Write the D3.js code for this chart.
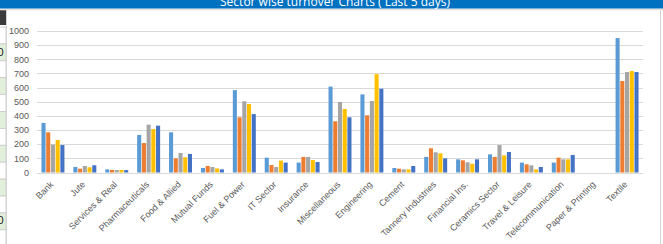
<!DOCTYPE html>
<html lang="en">
<head>
    <meta charset="UTF-8">
    <title>Sector wise turnover Charts</title>
    <script type="text/javascript" src="https://cdn.jsdelivr.net/npm/d3@7"></script>
    <style type="text/css">
        body { margin: 0; background: #fff; }
        svg { display: block; }
    </style>
</head>
<body>
<script type="text/javascript">

    //Width and height
    var w = 663;
    var h = 244;

    var categories = ["Bank", "Jute", "Services & Real", "Pharmaceuticals", "Food & Allied",
        "Mutual Funds", "Fuel & Power", "IT Sector", "Insurance", "Miscellaneous",
        "Engineering", "Cement", "Tannery Industries", "Financial Ins.", "Ceramics Sector",
        "Travel & Leisure", "Telecommunication", "Paper & Printing", "Textile"];

    // one array per day (last 5 days)
    var day1 = [350, 39, 22, 265, 284, 32, 582, 105, 70, 607, 552, 32, 110, 93, 128, 70, 70, 0, 950];
    var day2 = [284, 27, 18, 208, 100, 46, 390, 53, 110, 362, 404, 27, 171, 86, 110, 58, 105, 0, 647];
    var day3 = [197, 46, 18, 338, 138, 39, 503, 39, 110, 498, 505, 22, 143, 72, 194, 51, 93, 0, 710];
    var day4 = [230, 37, 18, 307, 107, 29, 484, 84, 88, 449, 695, 22, 136, 62, 121, 22, 93, 0, 717];
    var day5 = [194, 51, 17, 331, 131, 22, 413, 70, 74, 390, 592, 46, 100, 93, 145, 39, 124, 0, 710];

    var yTicks = [0, 100, 200, 300, 400, 500, 600, 700, 800, 900, 1000];

    var series = [day1, day2, day3, day4, day5];
    var colors = ["#5b9bd5", "#ed7d31", "#a5a5a5", "#ffc000", "#4472c4"];

    var svg = d3.select("body")
        .append("svg")
        .attr("width", w)
        .attr("height", h);

    // left edge of the sheet table that sits behind the chart
    svg.append("rect").attr("x", 0).attr("y", 10).attr("width", 6).attr("height", 15).attr("fill", "#3b3b3b");
    var rows = d3.range(13);
    svg.selectAll("rect.cell")
        .data(rows)
        .enter()
        .append("rect")
        .attr("class", "cell")
        .attr("x", -1)
        .attr("y", function(d) { return 27 + d * 16.9; })
        .attr("width", 7)
        .attr("height", 16.9)
        .attr("fill", function(d) { return d % 2 === 1 ? "#e2efda" : "#ffffff"; })
        .attr("stroke", "#c9c9c9")
        .attr("stroke-width", 0.8);
    svg.selectAll("text.cellv")
        .data([52, 220])
        .enter()
        .append("text")
        .attr("class", "cellv")
        .attr("x", 3.5)
        .attr("y", function(d) { return d + 4; })
        .attr("text-anchor", "end")
        .attr("font-family", "Liberation Sans, sans-serif")
        .attr("font-size", "11px")
        .attr("fill", "#222")
        .text("0");

    // chart panel
    svg.append("rect")
        .attr("x", 6.5).attr("y", 9.5)
        .attr("width", 654).attr("height", 240)
        .attr("fill", "#fff")
        .attr("stroke", "#d4d4d4");

    // title bar
    svg.append("rect").attr("x", 0).attr("y", 8.5).attr("width", w).attr("height", 1.8).attr("fill", "#e3e3e3");
    svg.append("rect").attr("x", 0).attr("y", 0).attr("width", w).attr("height", 8.5).attr("fill", "#0070c0");
    svg.append("text")
        .attr("x", 335)
        .attr("y", 6)
        .attr("text-anchor", "middle")
        .attr("font-family", "Open Sans, sans-serif")
        .attr("font-size", "12px")
        .attr("fill", "#ffffff")
        .text("Sector wise turnover Charts ( Last 5 days)");

    // scales
    var x0 = d3.scaleBand()
        .domain(categories)
        .range([37, 643])
        .paddingInner(0.28)
        .paddingOuter(0.14);

    var x1 = d3.scaleBand()
        .domain(d3.range(series.length))
        .range([0, x0.bandwidth()])
        .paddingInner(0.14);

    var y = d3.scaleLinear()
        .domain([0, 1000])
        .range([172.5, 31]);

    // gridlines
    svg.selectAll("line.grid")
        .data(yTicks)
        .enter()
        .append("line")
        .attr("class", "grid")
        .attr("x1", 37)
        .attr("x2", 643)
        .attr("y1", function(d) { return Math.round(y(d)) + 0.5; })
        .attr("y2", function(d) { return Math.round(y(d)) + 0.5; })
        .attr("stroke", "#d9d9d9")
        .attr("stroke-width", 1);

    // y axis labels
    svg.selectAll("text.ytick")
        .data(yTicks)
        .enter()
        .append("text")
        .attr("class", "ytick")
        .attr("x", 29)
        .attr("y", function(d) { return y(d) + 3.2; })
        .attr("text-anchor", "end")
        .attr("font-family", "Liberation Sans, sans-serif")
        .attr("font-size", "9px")
        .attr("fill", "#595959")
        .text(function(d) { return d; });

    // bars
    var groups = svg.selectAll("g.grp")
        .data(categories)
        .enter()
        .append("g")
        .attr("class", "grp")
        .attr("transform", function(d) { return "translate(" + x0(d) + ",0)"; });

    groups.selectAll("rect")
        .data(function(d, i) {
            return series.map(function(s, k) { return { k: k, v: s[i] }; });
        })
        .enter()
        .append("rect")
        .attr("x", function(d) { return x1(d.k); })
        .attr("y", function(d) { return y(d.v); })
        .attr("width", x1.bandwidth())
        .attr("height", function(d) { return y(0) - y(d.v); })
        .attr("fill", function(d) { return colors[d.k]; });

    // x axis labels, rotated
    svg.selectAll("text.xtick")
        .data(categories)
        .enter()
        .append("text")
        .attr("class", "xtick")
        .attr("transform", function(d) {
            return "translate(" + (x0(d) + x0.bandwidth() / 2 + 1) + ",185) rotate(-45)";
        })
        .attr("text-anchor", "end")
        .attr("font-family", "Liberation Sans, sans-serif")
        .attr("font-size", "9px")
        .attr("fill", "#595959")
        .text(function(d) { return d; });
</script>
</body>
</html>
